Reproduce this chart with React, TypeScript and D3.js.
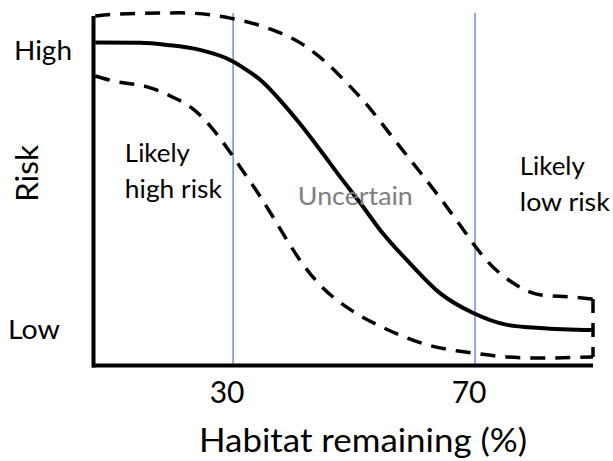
import React from "react";
import * as d3 from "d3";

// Habitat remaining (%) vs relative risk (0 = low, 1 = high)
const meanCurve: [number, number][] = [
  [7.2, 0.924], [14.6, 0.923], [19.1, 0.917], [24.5, 0.903], [29.5, 0.874],
  [32.0, 0.848], [34.9, 0.811], [37.75, 0.759], [41.06, 0.691], [44.4, 0.616],
  [47.7, 0.539], [51.0, 0.465], [54.3, 0.387], [59.2, 0.292], [64.2, 0.206],
  [69.7, 0.149], [75.3, 0.115], [80.7, 0.106], [89.5, 0.1],
];
const upperBound: [number, number][] = [
  [7.2, 1.0], [11.3, 1.006], [21.2, 1.009], [29.5, 0.994], [35.6, 0.966],
  [41.1, 0.923], [45.5, 0.865], [48.8, 0.808], [52.0, 0.748], [54.9, 0.685],
  [57.6, 0.625], [60.9, 0.553], [64.2, 0.479], [67.5, 0.401], [70.0, 0.341],
  [72.0, 0.298], [76.3, 0.235], [80.7, 0.201], [85.7, 0.195], [89.5, 0.189],
];
const lowerBound: [number, number][] = [
  [7.2, 0.828], [10.1, 0.814], [15.8, 0.797], [19.6, 0.771], [23.2, 0.736],
  [26.5, 0.679], [29.0, 0.622], [31.5, 0.559], [34.1, 0.493], [36.6, 0.424],
  [38.9, 0.358], [41.6, 0.287], [44.4, 0.229], [49.7, 0.155], [54.6, 0.109],
  [58.4, 0.08], [62.9, 0.054], [67.2, 0.04], [69.7, 0.034], [75.3, 0.023],
  [80.7, 0.02], [89.5, 0.023],
];
const thresholds = [30, 70];
const xTicks = [30, 70];
const yTickValues = [0.1, 0.9];
const yTickLabels = ["Low", "High"];
const regionLabels = [
  { lines: ["Likely", "high risk"], x: 12.1, y: 0.582, color: "#000" },
  { lines: ["Uncertain"], x: 40.7, y: 0.458, color: "#808080" },
  { lines: ["Likely", "low risk"], x: 77.4, y: 0.544, color: "#000" },
];
const regionWidths = [[65, 97], [115], [65, 90]];

const FONT = "Lato, 'Open Sans', sans-serif";

export default function App() {
  const W = 613, H = 461;
  const x = d3.scaleLinear().domain([7, 89.5]).range([94, 593]);
  const y = d3.scaleLinear().domain([0, 1]).range([365, 16]);
  const line = d3
    .line<[number, number]>()
    .x((d) => x(d[0]))
    .y((d) => y(d[1]))
    .curve(d3.curveMonotoneX);

  const xEnd = x(89.5);
  const upLast = upperBound[upperBound.length - 1];
  const loLast = lowerBound[lowerBound.length - 1];

  return (
    <svg
      width={W}
      height={H}
      style={{ position: "absolute", left: 0, top: 0, background: "#fff" }}
      fontFamily={FONT}
    >
      <rect width={W} height={H} fill="#fff" />
      {/* threshold lines */}
      {thresholds.map((t) => (
        <line key={t} x1={x(t)} x2={x(t)} y1={13} y2={367} stroke="#4472C4" strokeWidth={1.2} />
      ))}
      {/* axes */}
      <line x1={93.5} x2={93.5} y1={16} y2={367.5} stroke="#000" strokeWidth={4} />
      <line x1={92} x2={593} y1={365.5} y2={365.5} stroke="#000" strokeWidth={4} />
      {/* curves */}
      <path d={line(upperBound) || ""} fill="none" stroke="#000" strokeWidth={3.5} strokeDasharray="15 10" />
      <path d={line(lowerBound) || ""} fill="none" stroke="#000" strokeWidth={3.5} strokeDasharray="15 10" />
      <path d={line(meanCurve) || ""} fill="none" stroke="#000" strokeWidth={4} />
      <line
        x1={xEnd}
        x2={xEnd}
        y1={y(upLast[1])}
        y2={y(loLast[1])}
        stroke="#000"
        strokeWidth={3.5}
        strokeDasharray="14 10"
      />
      {/* x tick labels */}
      {xTicks.map((t) => (
        <text key={t} x={x(t) - 6} y={403} fontSize={30} textAnchor="middle" fill="#000">
          {t}
        </text>
      ))}
      {/* y tick labels */}
      {yTickValues.map((v, i) => (
        <text
          key={v}
          x={i === 0 ? 8 : 14}
          y={y(v) + 9}
          fontSize={27.5}
          fill="#000"
          textLength={i === 0 ? 52 : 58}
          lengthAdjust="spacingAndGlyphs"
        >
          {yTickLabels[i]}
        </text>
      ))}
      {/* axis titles */}
      <text x={199} y={452} fontSize={32} fill="#000" textLength={328} lengthAdjust="spacingAndGlyphs">
        Habitat remaining (%)
      </text>
      <text
        transform={`translate(38,202) rotate(-90)`}
        fontSize={31}
        fill="#000"
        textLength={57}
        lengthAdjust="spacingAndGlyphs"
      >
        Risk
      </text>
      {/* region labels */}
      {regionLabels.map((r, i) =>
        r.lines.map((ln, j) => (
          <text
            key={`${i}-${j}`}
            x={x(r.x)}
            y={y(r.y) + j * 36}
            fontSize={25.5}
            fill={r.color}
            textLength={regionWidths[i][j]}
            lengthAdjust="spacingAndGlyphs"
          >
            {ln}
          </text>
        ))
      )}
    </svg>
  );
}
